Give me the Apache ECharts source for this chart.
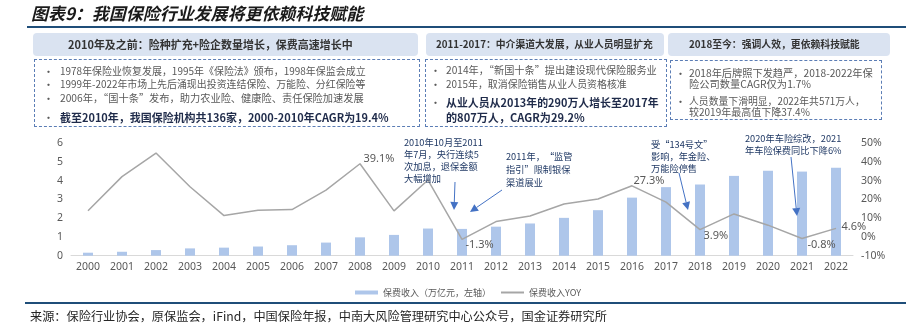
<!DOCTYPE html>
<html><head><meta charset="utf-8">
<script src="https://cdn.jsdelivr.net/npm/echarts@6/dist/echarts.min.js"></script>
<style>
body{margin:0;width:906px;height:329px;overflow:hidden;background:#fff;font-family:"Noto Sans CJK SC","Noto Sans",sans-serif;}
#wrap{position:relative;width:906px;height:329px;}
#chart{position:absolute;left:0;top:0;width:906px;height:329px;}
.t{position:absolute;white-space:nowrap;line-height:14px;height:14px;color:#595959;font-size:11px;}
.b{font-weight:bold;color:#1F2B4A;}
.hdr{position:absolute;height:23px;line-height:23px;background:#DAE3F1;border-radius:4px;font-weight:bold;color:#333;}
.hdr span{position:absolute;white-space:nowrap;font-size:11px;top:0;}
.dash{position:absolute;border:1.5px dashed #5B7DB5;box-sizing:border-box;}
.rule{position:absolute;height:1.5px;background:#1F4E79;}
#title{position:absolute;left:31px;top:3px;font-size:16.8px;font-weight:bold;font-style:italic;color:#1a1a1a;line-height:20px;white-space:nowrap;}
#src{position:absolute;left:30px;top:308px;font-size:12px;color:#262626;line-height:16px;white-space:nowrap;}
</style></head>
<body><div id="wrap"><div id="chart"></div></div>
<script>
const years = ['2000','2001','2002','2003','2004','2005','2006','2007','2008','2009','2010','2011','2012','2013','2014','2015','2016','2017','2018','2019','2020','2021','2022'];
const premium = [0.16,0.21,0.30,0.39,0.43,0.49,0.56,0.70,0.98,1.11,1.45,1.43,1.55,1.72,2.02,2.43,3.10,3.66,3.80,4.26,4.53,4.49,4.70];
const yoy = [14.0,32.2,44.8,26.8,11.4,14.2,14.6,25.0,39.1,13.9,30.4,-1.3,8.2,11.2,17.6,20.3,27.3,18.6,3.9,12.3,6.3,-0.8,4.6];
const labeledYears = ['2008','2011','2016','2018','2021','2022'];
const leftAxis = {min:0, max:6, interval:1};
const rightAxis = {min:-10, max:50, interval:10};
const seriesNames = ['保费收入（万亿元，左轴）','保费收入YOY'];

const titleText = '图表9：我国保险行业发展将更依赖科技赋能';
const headers = ['2010年及之前：险种扩充+险企数量增长，保费高速增长中','2011-2017：中介渠道大发展，从业人员明显扩充','2018至今：强调人效，更依赖科技赋能'];
const box1Lines = ['1978年保险业恢复发展，1995年《保险法》颁布，1998年保监会成立','1999年-2022年市场上先后涌现出投资连结保险、万能险、分红保险等','2006年，“国十条”发布，助力农业险、健康险、责任保险加速发展','截至2010年，我国保险机构共136家，2000-2010年CAGR为19.4%'];
const box2Lines = ['2014年，“新国十条”提出建设现代保险服务业','2015年，取消保险销售从业人员资格核准','从业人员从2013年的290万人增长至2017年','的807万人，CAGR为29.2%'];
const box3Lines = ['2018年后牌照下发趋严，2018-2022年保','险公司数量CAGR仅为1.7%','人员数量下滑明显，2022年共571万人，','较2019年最高值下降37.4%'];
const notes = ['2010年10月至2011\n年7月，央行连续5\n次加息，退保金额\n大幅增加','2011年，“监管\n指引”限制银保\n渠道展业','受“134号文”\n影响，年金险、\n万能险停售','2020年车险综改，2021\n年车险保费同比下降6%'];
const sourceText = '来源：保险行业协会，原保监会，iFind，中国保险年报，中南大风险管理研究中心公众号，国金证券研究所';

const wrap = document.getElementById('wrap');
function el(cls, css, text, parent){const d=document.createElement('div');d.className=cls;Object.assign(d.style,css);if(text!==undefined)d.textContent=text;(parent||wrap).appendChild(d);return d;}
function fit(d, target){const w=d.getBoundingClientRect().width;const fs=parseFloat(getComputedStyle(d).fontSize);d.style.fontSize=(fs*target/w)+'px';}
const t=document.createElement('div');t.id='title';t.textContent=titleText;wrap.appendChild(t);fit(t,332);
el('rule',{left:'27px',top:'26px',width:'879px'});
function header(left,width,text,tl,tw){
  const h=el('hdr',{left:left+'px',top:'33px',width:width+'px'});
  const sp=document.createElement('span');sp.textContent=text;h.appendChild(sp);fit(sp,tw);
  sp.style.left=(tl-left)+'px';
}
header(33,385,headers[0],68,285);
header(426,238,headers[1],436,217);
header(668,222,headers[2],689,171);
el('dash',{left:'34px',top:'59px',width:'386px',height:'68px'});
el('dash',{left:'425px',top:'59px',width:'242px',height:'68px'});
el('dash',{left:'670px',top:'60px',width:'212px',height:'59.5px'});
function line(x, cy, text, bold, w, bulletX){
  const d=el('t'+(bold?' b':''),{left:x+'px',top:(cy-7)+'px'},text);fit(d,w);
  if(bulletX!==undefined) el('t',{left:bulletX+'px',top:(cy-7)+'px',fontSize:'11px'},'•');
}
const b1y=[70.7,84.3,98.3,117.3], b1w=[306,306,304,329];
box1Lines.forEach((s,i)=>line(60,b1y[i],s,i===3,b1w[i],43));
const b2y=[70,84.3,101.7,117.3], b2w=[211,181,213,139];
box2Lines.forEach((s,i)=>line(446,b2y[i],s,i>=2,b2w[i],i<3?430:undefined));
const b3y=[72.7,84.3,100.7,112.3], b3w=[184,122,176,121];
box3Lines.forEach((s,i)=>line(689,b3y[i],s,false,b3w[i],(i===0||i===2)?675:undefined));
el('rule',{left:'25px',top:'302px',width:'881px'});
const s=document.createElement('div');s.id='src';s.textContent=sourceText;wrap.appendChild(s);fit(s,577);

const cv=document.createElement('canvas').getContext('2d');
function fitFont(text,target){cv.font='10px "Noto Sans CJK SC"';return 10*target/cv.measureText(text).width;}
const noteFs=(fitFont('2010年10月至2011',79)+fitFont('2020年车险综改，2021',96))/2;

const labelPos = {'2008':[0,-5],'2011':[0,5],'2016':[-2,-5],'2018':[0,6],'2021':[2,6],'2022':[2,-1]};
const yoyData = yoy.map((v,i)=>{
  const y=years[i];
  if(labeledYears.indexOf(y)<0) return v;
  return {value:v,label:{show:true,position:'right',distance:3,offset:labelPos[y],formatter:p=>p.value.toFixed(1)+'%',color:'#595959',fontSize:11}};
});

const noteColor='#1F3864', arrowColor='#4472C4';
function arrow(x1,y1,x2,y2){
  const dx=x2-x1, dy=y2-y1, L=Math.sqrt(dx*dx+dy*dy), ux=dx/L, uy=dy/L, hl=8, hw=4;
  const bx=x2-ux*hl, by=y2-uy*hl;
  return [
    {type:'line',shape:{x1:x1,y1:y1,x2:bx,y2:by},style:{stroke:arrowColor,lineWidth:1},z:10},
    {type:'polygon',shape:{points:[[x2,y2],[bx-uy*hw,by+ux*hw],[bx+uy*hw,by-ux*hw]]},style:{fill:arrowColor},z:10}
  ];
}
function note(x,top,text,lh){
  return {type:'text',x:x,y:top,style:{text:text,fill:noteColor,font:noteFs.toFixed(2)+'px "Noto Sans CJK SC"',lineHeight:lh,verticalAlign:'top'},z:10};
}
const graphics = [
  note(404,136,notes[0],12), note(506,149.5,notes[1],13), note(651,138,notes[2],12.2), note(745,132,notes[3],12.4),
  ...arrow(455,182,454,210), ...arrow(502,190,470,212), ...arrow(679,173,688,210), ...arrow(791,157,797,216)
];

const chart = echarts.init(document.getElementById('chart'));
chart.setOption({
  animation:false,
  textStyle:{fontFamily:'"Noto Sans","Noto Sans CJK SC",sans-serif'},
  grid:{left:71,right:53,top:143.3,bottom:73.3},
  legend:{left:350,top:283,itemGap:9,itemWidth:23,itemHeight:4,
    textStyle:{fontSize:9,color:'#595959',fontFamily:'"Noto Sans CJK SC"'},
    data:[{name:seriesNames[0],icon:'rect'},{name:seriesNames[1]}]},
  xAxis:{type:'category',data:years,axisTick:{show:false},axisLine:{lineStyle:{color:'#D9D9D9'}},
    axisLabel:{color:'#595959',fontSize:10.5,margin:6}},
  yAxis:[
    {type:'value',min:leftAxis.min,max:leftAxis.max,interval:leftAxis.interval,splitLine:{show:false},
      axisLabel:{color:'#595959',fontSize:10.5,margin:8}},
    {type:'value',min:rightAxis.min,max:rightAxis.max,interval:rightAxis.interval,splitLine:{show:false},
      axisLabel:{color:'#595959',fontSize:10.5,margin:8,formatter:'{value}%'}}
  ],
  series:[
    {name:seriesNames[0],type:'bar',data:premium,barWidth:10,itemStyle:{color:'#AEC6EA'}},
    {name:seriesNames[1],type:'line',yAxisIndex:1,data:yoyData,symbol:'circle',symbolSize:1,showSymbol:true,showAllSymbol:true,
      lineStyle:{color:'#A6A6A6',width:1.5},itemStyle:{color:'rgba(0,0,0,0)'},z:3}
  ],
  graphic:graphics
});
</script></body></html>
